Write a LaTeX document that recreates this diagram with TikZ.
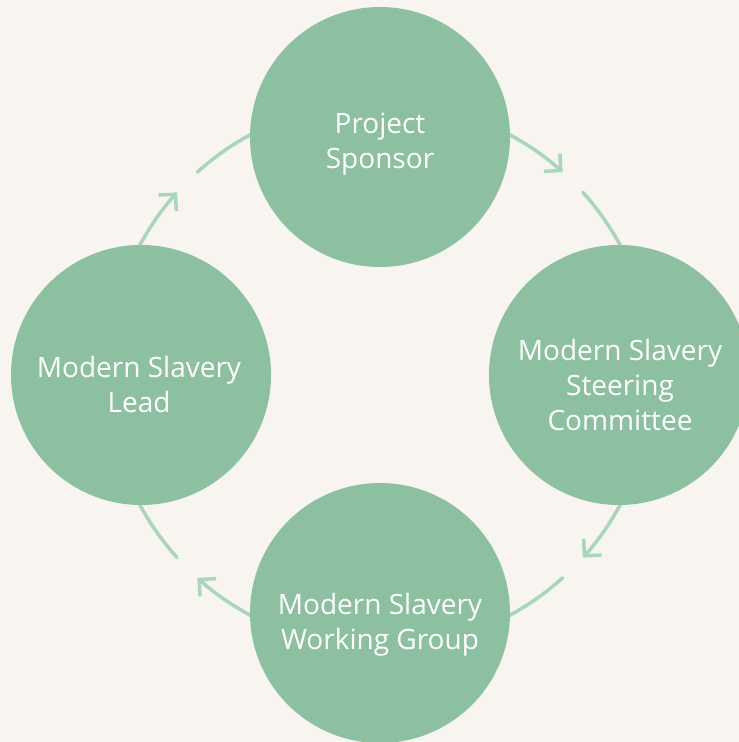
\documentclass[tikz,border=0pt]{standalone}
\usepackage{fontspec}
\setmainfont{Open Sans}
\usepackage{xcolor}
\usepackage{tikz}
\usetikzlibrary{positioning,arrows.meta}
\definecolor{MSGreen}{HTML}{8CC0A0}
\definecolor{MSLine}{HTML}{A9D5B9}
\definecolor{MSPaper}{HTML}{F8F5F0}

\begin{document}
\begin{tikzpicture}[x=1pt, y=1pt,
                    stage/.style={circle, fill=MSGreen, minimum size=260pt,
                                  inner sep=0pt, outer sep=0pt},
                    caption/.style={align=center, text=white,
                                    font=\fontsize{28}{35}\selectfont},
                    loop/.style={draw=MSLine, line width=3.5pt, line cap=round}]
\fill[MSPaper] (0,0) rectangle (739,742);
\useasboundingbox (0,0) rectangle (739,742);
\coordinate (hub) at (380,367);
% ring of arrows, clockwise
\foreach \a/\b/\c/\d in {155/138/132/115, 65/48/42/25, -25/-42/-48/-65, -115/-132/-138/-155}{
  \draw[loop, -{Straight Barb[length=12pt, width=24pt]}]
    ([shift={(\a:273)}]hub) arc[start angle=\a, end angle=\b, radius=273];
  \draw[loop] ([shift={(\c:273)}]hub) arc[start angle=\c, end angle=\d, radius=273];
}
\node[stage, above=108pt of hub] (sponsor) {};
\node[stage, right=109pt of hub] (steering) {};
\node[stage, below=108pt of hub] (working) {};
\node[stage, left=109pt of hub] (lead) {};
\node[caption] (sponsortext) at ([yshift=-7pt]sponsor) {Project\\ Sponsor};
\node[caption] (steeringtext) at ([xshift=1pt, yshift=-10pt]steering) {Modern Slavery\\ Steering\\ Committee};
\node[caption] (workingtext) at ([yshift=-12pt]working) {Modern Slavery\\ Working Group};
\node[caption] (leadtext) at ([xshift=-2pt, yshift=-10pt]lead) {Modern Slavery\\ Lead};
\end{tikzpicture}
\end{document}
